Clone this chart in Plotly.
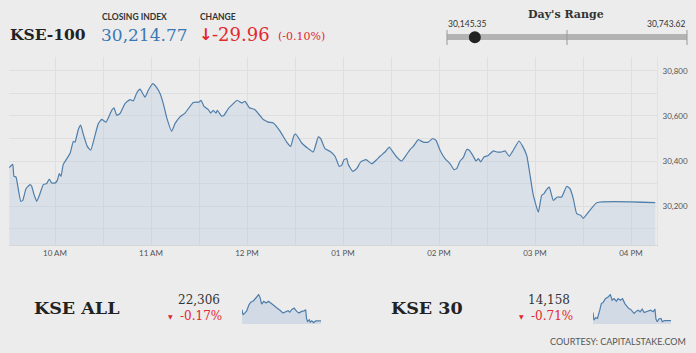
import plotly.graph_objects as go

W, H = 696, 353
DAY = "2020-01-01 "

# ---- main KSE-100 intraday series ----
times = ["09:31:26","09:33:34","09:34:22","09:35:37","09:38:34","09:39:49","09:41:52","09:44:22","09:45:26","09:46:52",
         "09:48:34","09:50:37","09:52:41","09:54:49","09:56:26","09:57:56","10:00:00","10:01:26","10:02:41","10:03:45",
         "10:05:11","10:09:23","10:11:26","10:12:30","10:14:34","10:16:04","10:17:41","10:20:11","10:22:19","10:25:00",
         "10:27:04","10:29:11","10:31:53","10:35:26","10:36:53","10:38:34","10:40:37","10:43:45","10:46:53","10:48:56",
         "10:51:04","10:53:08","10:56:15","10:58:19","11:01:04","11:03:34","11:05:38","11:07:41","11:09:49","11:12:56",
         "11:15:00","11:18:08","11:21:15","11:26:26","11:30:11","11:31:15","11:33:08","11:35:49","11:37:19","11:38:56",
         "11:40:38","11:41:26","11:44:11","11:45:38","11:48:19","11:51:26","11:53:56","11:56:41","11:58:45","12:01:26",
         "12:05:00","12:07:04","12:10:11","12:13:19","12:16:26","12:20:38","12:24:49","12:27:19","12:29:23","12:30:38",
         "12:34:11","12:38:19","12:41:26","12:44:34","12:46:04","12:48:45","12:51:53","12:55:00","12:57:41","12:59:11",
         "13:00:38","13:02:19","13:03:19","13:06:04","13:08:34","13:11:04","13:14:23","13:17:56","13:21:04","13:23:08",
         "13:26:15","13:28:56","13:30:26","13:33:34","13:36:41","13:39:23","13:41:53","13:43:56","13:47:04","13:50:11",
         "13:53:19","13:56:04","13:58:08","14:00:38","14:03:45","14:06:53","14:09:23","14:11:04","14:13:08","14:15:11",
         "14:17:19","14:18:56","14:21:26","14:23:08","14:24:34","14:26:04","14:28:08","14:30:49","14:33:56","14:36:04",
         "14:39:11","14:41:15","14:43:56","14:46:26","14:50:00","14:52:19","14:54:49","14:56:26","14:58:56","15:02:04",
         "15:04:11","15:05:38","15:06:53","15:08:56","15:11:26","15:13:56","15:16:41","15:19:49","15:21:53","15:23:56",
         "15:26:04","15:28:34","15:30:11","15:38:34","16:15:11"]
kse100 = [30371,30385,30332,30329,30221,30225,30277,30295,30288,30252,
          30221,30255,30295,30300,30320,30302,30302,30314,30344,30332,
          30385,30433,30487,30484,30540,30559,30519,30465,30448,30514,
          30566,30585,30573,30625,30636,30603,30611,30655,30673,30667,
          30702,30719,30684,30714,30743.62,30726,30700,30655,30593,30532,
          30566,30596,30613,30660,30662,30670,30643,30628,30613,30625,
          30613,30625,30599,30603,30633,30655,30670,30658,30665,30637,
          30628,30611,30584,30573,30569,30533,30484,30465,30514,30519,
          30480,30455,30440,30507,30499,30455,30443,30421,30376,30381,
          30406,30411,30384,30354,30366,30396,30406,30388,30406,30421,
          30440,30462,30448,30418,30400,30425,30451,30465,30495,30484,
          30484,30500,30492,30448,30411,30388,30362,30366,30400,30415,
          30451,30448,30421,30400,30411,30396,30418,30425,30445,30440,
          30440,30445,30421,30448,30489,30465,30425,30359,30248,30173,
          30248,30255,30270,30284,30225,30240,30240,30288,30277,30233,
          30166,30159,30145.35,30214.77,30214.77]

y_ticks = [30200, 30400, 30600, 30800]
x_tick_hours = ["10:00","11:00","12:00","13:00","14:00","15:00","16:00"]

# ---- header values ----
index_name = "KSE-100"
closing_index = "30,214.77"
change_val = "-29.96"
change_pct = "(-0.10%)"
day_low, day_high, day_close = 30145.35, 30743.62, 30214.77

# ---- sparklines ----
all_minutes = [0,5,14,24,36,45,59,71,85,92,100,111,123,135,149,163,175,187,197,209,221,235,244,253,266,279,291,304,317,325,329,334,343,348,356,365,377,391,403]
all_values = [22346,22328,22334,22342,22364,22373,22378,22390,22400,22390,22366,22376,22370,22376,22370,22361,22354,22349,22342,22334,22337,22342,22337,22346,22352,22340,22334,22340,22342,22346,22316,22304,22310,22301,22306,22300,22306,22306,22306]
k30_minutes = [0,5,14,23,35,43,52,64,78,90,99,109,121,130,142,153,165,177,185,194,203,213,225,234,244,255,265,277,286,298,312,321,326,333,341,352,359,369,386,404]
k30_values = [14183,14160,14167,14165,14190,14210,14213,14225,14230,14237,14220,14225,14217,14225,14220,14225,14210,14200,14195,14193,14187,14180,14187,14190,14185,14193,14183,14185,14187,14190,14185,14193,14163,14155,14163,14165,14155,14158,14158,14158]
sub_names = ["KSE ALL", "KSE 30"]
sub_close = ["22,306", "14,158"]
sub_pct = ["-0.17%", "-0.71%"]

BG = "#ececec"
GRID = "#dfdfdf"
LINE = "#4f7eab"
RED = "#e2282f"
SERIF = "DejaVu Serif"
SANS = "Lato"

def px(x): return x / W
def py(y): return 1 - y / H

fig = go.Figure()

fig.add_trace(go.Scatter(
    x=[DAY + t for t in times], y=kse100, mode="lines",
    line=dict(color=LINE, width=1.2, shape="spline", smoothing=0.4),
    fill="tozeroy", fillcolor="rgba(180,198,222,0.32)",
    xaxis="x", yaxis="y", hoverinfo="skip", showlegend=False))

fig.add_trace(go.Scatter(
    x=all_minutes, y=all_values, mode="lines",
    line=dict(color=LINE, width=1.2), fill="tozeroy", fillcolor="rgba(180,198,222,0.45)",
    xaxis="x2", yaxis="y2", hoverinfo="skip", showlegend=False))
fig.add_trace(go.Scatter(
    x=k30_minutes, y=k30_values, mode="lines",
    line=dict(color=LINE, width=1.2), fill="tozeroy", fillcolor="rgba(180,198,222,0.45)",
    xaxis="x3", yaxis="y3", hoverinfo="skip", showlegend=False))

fig.update_layout(
    width=W, height=H, margin=dict(l=0, r=0, t=0, b=0),
    paper_bgcolor=BG, plot_bgcolor=BG, showlegend=False,
    xaxis=dict(domain=[px(9), px(657)], type="date",
               range=[DAY + "09:31:15", DAY + "16:16:15"],
               tickvals=[DAY + h for h in x_tick_hours], tickformat="%I %p",
               showgrid=True, gridcolor=GRID, gridwidth=1,
               minor=dict(dtick=1800000, showgrid=True, gridcolor=GRID),
               showline=True, linecolor="#d6d6d6", linewidth=1,
               ticks="", tickfont=dict(family=SANS, size=8, color="#555"),
               anchor="y", zeroline=False, fixedrange=True),
    yaxis=dict(domain=[py(245), py(57)], range=[30027, 30862], side="right",
               tickvals=y_ticks, tickformat=",d",
               showgrid=True, gridcolor=GRID,
               minor=dict(dtick=100, showgrid=True, gridcolor=GRID, tick0=30000),
               showline=True, linecolor="#e2e2e2",
               ticks="outside", ticklen=3, tickcolor="rgba(0,0,0,0)",
               tickfont=dict(family=SANS, size=8, color="#555"),
               anchor="x", zeroline=False, fixedrange=True),
    xaxis2=dict(domain=[px(242), px(321)], range=[0, 403], visible=False, anchor="y2"),
    yaxis2=dict(domain=[py(324), py(294)], range=[22295, 22402], visible=False, anchor="x2"),
    xaxis3=dict(domain=[px(593), px(671)], range=[0, 404], visible=False, anchor="y3"),
    yaxis3=dict(domain=[py(324), py(294)], range=[14148, 14239], visible=False, anchor="x3"),
)

ann = []
def txt(x, y, s, size, color="#222", family=SANS, xanchor="left", bold=False):
    if bold:
        s = "<b>" + s + "</b>"
    ann.append(dict(x=px(x), y=py(y), xref="paper", yref="paper", text=s, showarrow=False,
                    xanchor=xanchor, yanchor="middle", font=dict(family=family, size=size, color=color)))

# header
txt(8, 35, index_name, 15.5, "#222", SERIF, bold=True)
txt(100, 17, "CLOSING INDEX", 8.5, "#333", SANS, bold=True)
txt(99, 35, closing_index, 17, "#3a78b5", SERIF)
txt(198, 17, "CHANGE", 8.5, "#333", SANS, bold=True)
txt(197, 35, "↓", 16, RED, "DejaVu Sans", bold=True)
txt(210, 35, change_val, 18, RED, SERIF)
txt(276, 36, change_pct, 11, RED, SERIF)

# day's range
txt(566, 14, "Day's Range", 11, "#333", SERIF, xanchor="center", bold=True)
txt(446, 24, f"{day_low:,.2f}", 8.5, "#333", SANS)
txt(688, 24, f"{day_high:,.2f}", 8.5, "#333", SANS, xanchor="right")

# bottom
txt(32, 308, sub_names[0], 17.5, "#222", SERIF, bold=True)
txt(222, 300, sub_close[0], 12, "#333", SERIF, xanchor="right")
txt(170, 316, "▼", 6, RED, "DejaVu Sans", xanchor="center")
txt(224, 316, sub_pct[0], 12, RED, SERIF, xanchor="right")
txt(389, 308, sub_names[1], 17.5, "#222", SERIF, bold=True)
txt(572, 300, sub_close[1], 12, "#333", SERIF, xanchor="right")
txt(521, 316, "▼", 6, RED, "DejaVu Sans", xanchor="center")
txt(575, 316, sub_pct[1], 12, RED, SERIF, xanchor="right")
txt(688, 341, "COURTESY: CAPITALSTAKE.COM", 9, "#555", SANS, xanchor="right")

fig.update_layout(annotations=ann)

# day's range slider
frac = (day_close - day_low) / (day_high - day_low)
x0, x1 = 447, 687
shapes = [
    dict(type="rect", xref="paper", yref="paper", x0=px(x0), x1=px(x1), y0=py(40), y1=py(34),
         fillcolor="#b3b3b3", line=dict(width=0), layer="below"),
]
for xv in [x0, (x0 + x1) / 2, x1]:
    shapes.append(dict(type="line", xref="paper", yref="paper", x0=px(xv), x1=px(xv), y0=py(30), y1=py(45),
                       line=dict(color="#999", width=1)))
cx = x0 + frac * (x1 - x0)
shapes.append(dict(type="circle", xref="paper", yref="paper", x0=px(cx - 6), x1=px(cx + 6),
                   y0=py(43.3), y1=py(31.3), fillcolor="#222", line=dict(color="#222", width=0)))
fig.update_layout(shapes=shapes)

fig.write_html("out.html")
